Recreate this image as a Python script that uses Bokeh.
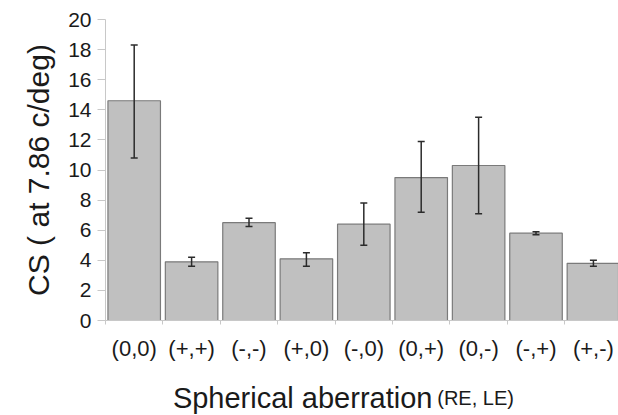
from bokeh.plotting import figure
from bokeh.layouts import column
from bokeh.models import (ColumnDataSource, Whisker, TeeHead, FixedTicker, Range1d, Label)
from bokeh.embed import file_html
from bokeh.resources import INLINE

categories = ["(0,0)", "(+,+)", "(-,-)", "(+,0)", "(-,0)", "(0,+)", "(0,-)", "(-,+)", "(+,-)"]
cs_values = [14.6, 3.9, 6.5, 4.1, 6.4, 9.5, 10.3, 5.8, 3.8]
err_upper = [18.3, 4.2, 6.8, 4.5, 7.8, 11.9, 13.5, 5.9, 4.0]
err_lower = [10.8, 3.6, 6.25, 3.6, 5.0, 7.2, 7.1, 5.7, 3.6]
y_ticks = [0, 2, 4, 6, 8, 10, 12, 14, 16, 18, 20]

idx = list(range(1, len(categories) + 1))
src = ColumnDataSource(dict(x=idx, top=cs_values, upper=err_upper, lower=err_lower))

FONT = "Liberation Sans"
TXT = "#1a1a1a"

xr = Range1d(0.5, 9.437)
p = figure(width=618, height=375, output_backend="svg", toolbar_location=None,
           x_range=xr, y_range=Range1d(0, 20))
p.min_border_left = 105
p.min_border_right = 0
p.min_border_top = 19
p.min_border_bottom = 55
p.outline_line_color = None
p.xgrid.visible = False
p.ygrid.visible = False
p.background_fill_color = "white"
p.border_fill_color = "white"

p.vbar(x="x", top="top", width=0.915, source=src,
       fill_color="#c0c0c0", line_color="#7a7a7a", line_width=1.2)

head = dict(size=7, line_color="#2b2b2b", line_width=1.5)
wh = Whisker(source=src, base="x", upper="upper", lower="lower",
             line_color="#2b2b2b", line_width=1.5,
             upper_head=TeeHead(**head), lower_head=TeeHead(**head))
wh.level = "overlay"
p.add_layout(wh)

# y axis
ya = p.yaxis[0]
ya.ticker = FixedTicker(ticks=y_ticks)
ya.axis_line_color = "#c8c8c8"
ya.major_tick_line_color = "#c8c8c8"
ya.major_tick_out = 8
ya.major_tick_in = 0
ya.minor_tick_line_color = None
ya.major_label_text_font = FONT
ya.major_label_text_font_size = "21px"
ya.major_label_text_color = TXT
ya.major_label_standoff = 6
ya.axis_label = "CS ( at 7.86 c/deg)"
ya.axis_label_text_font = FONT
ya.axis_label_text_font_size = "30px"
ya.axis_label_text_font_style = "normal"
ya.axis_label_text_color = TXT
ya.axis_label_standoff = 10

# x axis
xa = p.xaxis[0]
xa.ticker = FixedTicker(ticks=idx, minor_ticks=[i + 0.5 for i in range(0, len(categories) + 1)])
xa.major_label_overrides = {i: c for i, c in zip(idx, categories)}
xa.axis_line_color = "#c8c8c8"
xa.major_tick_line_color = None
xa.major_tick_out = 0
xa.major_tick_in = 0
xa.minor_tick_line_color = "#c8c8c8"
xa.minor_tick_out = 4
xa.minor_tick_in = 0
xa.major_label_text_font = FONT
xa.major_label_text_font_size = "22px"
xa.major_label_text_color = TXT
xa.major_label_standoff = 11

# x axis title strip (mixed font sizes)
t = figure(width=618, height=40, output_backend="svg", toolbar_location=None,
           x_range=xr, y_range=Range1d(0, 40), x_axis_type=None, y_axis_type=None)
t.min_border_left = 105
t.min_border_right = 0
t.min_border_top = 0
t.min_border_bottom = 0
t.outline_line_color = None
t.xgrid.visible = False
t.ygrid.visible = False
t.add_layout(Label(x=1.674, y=17.5, text="Spherical aberration", text_font=FONT,
                   text_font_size="29px", text_color=TXT, text_baseline="alphabetic"))
t.add_layout(Label(x=6.279, y=17.5, text="(RE, LE)", text_font=FONT,
                   text_font_size="20px", text_color=TXT, text_baseline="alphabetic"))

layout = column(p, t, spacing=0)
open("out.html", "w").write(file_html(layout, INLINE))
